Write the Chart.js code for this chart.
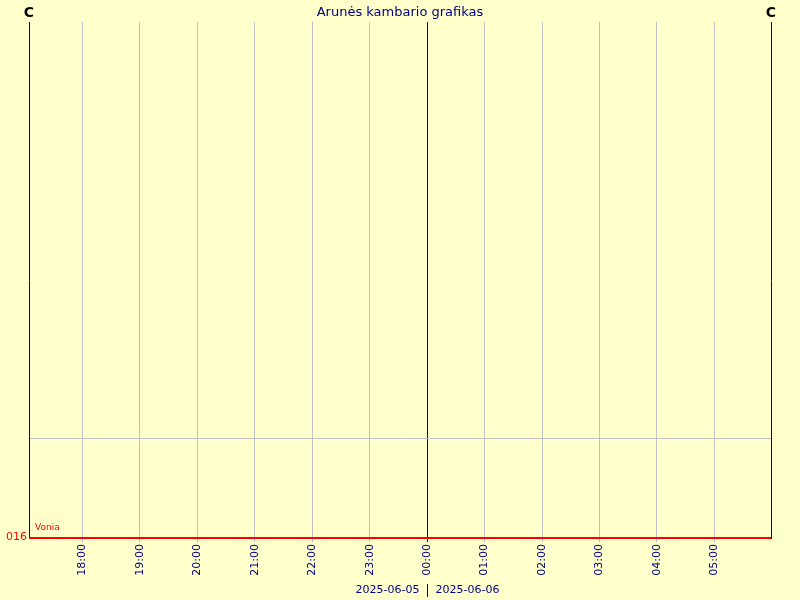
<!DOCTYPE html>
<html lang="lt">
<head>
    <meta charset="UTF-8">
    <title>Arunės kambario grafikas</title>
    <script src="https://cdn.jsdelivr.net/npm/chart.js"></script>
    <style>
        html, body { margin: 0; padding: 0; background: #ffffcc; }
        #roomChart { display: block; }
    </style>
</head>
<body>
    <canvas id="roomChart" width="800" height="600"></canvas>

    <script>
        // x = hours counted from 2025-06-05 00:00
        const chartTitle = "Arunės kambario grafikas";
        const axisUnit = "C";
        const rangeStart = 17.07;         // ~17:04
        const rangeEnd = 29.985;          // ~06:00 next day
        const tickHours = [18, 19, 20, 21, 22, 23, 24, 25, 26, 27, 28, 29];
        const tickLabels = ["18:00", "19:00", "20:00", "21:00", "22:00", "23:00",
                            "00:00", "01:00", "02:00", "03:00", "04:00", "05:00"];
        const dayLabels = ["2025-06-05", "2025-06-06"];
        const midnightHour = 24;

        // Vonia series (flat at the bottom)
        const voniaName = "Vonia";
        const voniaValueLabel = "016";
        const voniaHours = [rangeStart, 18, 20, 22, 24, 26, 28, rangeEnd];
        const voniaValues = [0, 0, 0, 0, 0, 0, 0, 0];

        const yMin = 0;
        const yMax = 5.16;
        const yGridValues = [1];

        const navy = '#000080';
        const grey = '#c0c0c0';

        const decorations = {
            id: 'decorations',
            beforeDraw(chart) {
                const c = chart.ctx;
                c.save();
                c.fillStyle = '#ffffcc';
                c.fillRect(0, 0, chart.width, chart.height);
                c.restore();
            },
            afterDraw(chart) {
                const c = chart.ctx;
                const area = chart.chartArea;
                const x = chart.scales.x;
                const y = chart.scales.y;
                c.save();

                // title
                c.fillStyle = navy;
                c.font = '13px "DejaVu Sans"';
                c.textAlign = 'center';
                c.textBaseline = 'middle';
                c.fillText(chartTitle, (area.left + area.right) / 2, 13);

                // unit labels above both axes
                c.fillStyle = '#000000';
                c.font = 'bold 14px "DejaVu Sans"';
                c.fillText(axisUnit, area.left, 13);
                c.fillText(axisUnit, area.right, 13);

                // series label and value
                c.fillStyle = '#ff0000';
                c.font = '9px "DejaVu Sans"';
                c.textAlign = 'left';
                c.textBaseline = 'alphabetic';
                c.fillText(voniaName, area.left + 6, y.getPixelForValue(0) - 8);
                c.font = '11px "DejaVu Sans"';
                c.textAlign = 'right';
                c.fillText(voniaValueLabel, area.left - 2, y.getPixelForValue(0) + 2);

                // day labels under axis
                const mx = Math.round(x.getPixelForValue(midnightHour)) + 0.5;
                c.fillStyle = navy;
                c.font = '11px "DejaVu Sans"';
                c.textBaseline = 'middle';
                c.textAlign = 'right';
                c.fillText(dayLabels[0], mx - 8, 590);
                c.textAlign = 'left';
                c.fillText(dayLabels[1], mx + 8, 590);
                c.strokeStyle = navy;
                c.lineWidth = 1;
                c.beginPath();
                c.moveTo(mx, 584);
                c.lineTo(mx, 597);
                c.stroke();

                c.restore();
            }
        };

        new Chart(document.getElementById('roomChart'), {
            type: 'line',
            data: {
                datasets: [{
                    label: voniaName,
                    data: voniaHours.map((h, i) => ({ x: h, y: voniaValues[i] })),
                    borderColor: '#ff0000',
                    borderWidth: 2,
                    pointRadius: 0,
                    tension: 0,
                    clip: false
                }]
            },
            options: {
                responsive: false,
                animation: false,
                layout: { padding: { top: 22, left: 0, right: 0, bottom: 0 } },
                plugins: {
                    legend: { display: false },
                    tooltip: { enabled: false }
                },
                scales: {
                    x: {
                        type: 'linear',
                        min: rangeStart,
                        max: rangeEnd,
                        afterBuildTicks: (scale) => {
                            scale.ticks = tickHours.map(v => ({ value: v }));
                        },
                        afterFit: (scale) => { scale.height = 62; },
                        border: { display: false },
                        grid: {
                            color: (ctx) => ctx.tick && ctx.tick.value === midnightHour ? navy : grey,
                            lineWidth: 1,
                            drawTicks: true,
                            tickLength: 4
                        },
                        ticks: {
                            autoSkip: false,
                            maxRotation: 90,
                            minRotation: 90,
                            padding: 2,
                            color: navy,
                            font: { family: 'DejaVu Sans', size: 11 },
                            callback: (value, index) => tickLabels[index]
                        }
                    },
                    y: {
                        min: yMin,
                        max: yMax,
                        afterBuildTicks: (scale) => {
                            scale.ticks = yGridValues.map(v => ({ value: v }));
                        },
                        afterFit: (scale) => { scale.width = 29; },
                        border: { display: true, color: navy, width: 1 },
                        grid: { color: grey, drawTicks: false },
                        ticks: { display: false }
                    },
                    y2: {
                        position: 'right',
                        min: yMin,
                        max: yMax,
                        afterFit: (scale) => { scale.width = 29; },
                        border: { display: true, color: navy, width: 1 },
                        grid: { display: false, drawTicks: false },
                        ticks: { display: false }
                    }
                }
            },
            plugins: [decorations]
        });
    </script>
</body>
</html>
